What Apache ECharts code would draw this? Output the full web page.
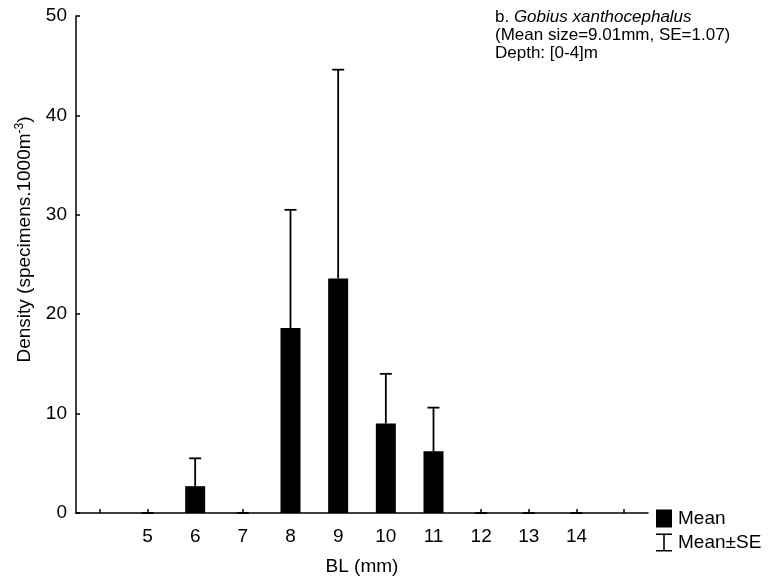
<!DOCTYPE html>
<html>
<head>
<meta charset="utf-8">
<script src="https://cdn.jsdelivr.net/npm/echarts@6/dist/echarts.min.js"></script>
<style>
  html, body { margin: 0; padding: 0; background: #fff; }
  #chart { width: 771px; height: 585px; }
</style>
</head>
<body>
<div id="chart"></div>
<script>
// ---- data ----
const categories = [4, 5, 6, 7, 8, 9, 10, 11, 12, 13, 14, 15];
const tickLabels = ['', '5', '6', '7', '8', '9', '10', '11', '12', '13', '14', ''];
const meanValues = [null, 0, 2.7, 0, 18.6, 23.6, 9.0, 6.2, 0, 0, 0, null];
const meanPlusSE = [null, 0, 5.5, 0, 30.5, 44.6, 14.0, 10.6, 0, 0, 0, null];
const yTicks = [0, 10, 20, 30, 40, 50];

const FONT = 'Liberation Sans, Arial, sans-serif';
const FS = 19;
const FS_NOTE = 17;

const chart = echarts.init(document.getElementById('chart'), null, { renderer: 'canvas' });

const errData = categories.map((c, i) => [i, meanValues[i], meanPlusSE[i]]).filter(d => d[1] !== null);

const option = {
  animation: false,
  backgroundColor: '#ffffff',
  textStyle: { fontFamily: FONT, color: '#000' },
  grid: { left: 76, right: 123, top: 16, bottom: 72, containLabel: false },
  legend: {
    orient: 'vertical',
    left: 656,
    top: 509,
    padding: 0,
    itemWidth: 16,
    itemHeight: 18,
    itemGap: 5,
    selectedMode: false,
    textStyle: { fontFamily: FONT, fontSize: FS, color: '#000', padding: [0, 0, 0, 1] },
    data: [
      { name: 'Mean', icon: 'rect', itemStyle: { color: '#000' } },
      { name: 'Mean±SE', icon: 'path://M0,0H16V1.6H8.8V16.4H16V18H0V16.4H7.2V1.6H0Z', itemStyle: { color: '#000' } }
    ]
  },
  xAxis: {
    type: 'category',
    data: categories.map(String),
    boundaryGap: true,
    name: 'BL (mm)',
    nameLocation: 'middle',
    nameGap: 44,
    nameTextStyle: { fontFamily: FONT, fontSize: FS, color: '#000' },
    axisLine: { show: true, lineStyle: { color: '#000', width: 1.5 } },
    axisTick: { show: true, inside: true, alignWithLabel: true, interval: 0, length: 4, lineStyle: { color: '#000', width: 1.5 } },
    axisLabel: {
      interval: 0, margin: 14, fontFamily: FONT, fontSize: FS, color: '#000',
      formatter: (v, i) => tickLabels[i]
    },
    splitLine: { show: false }
  },
  yAxis: {
    type: 'value',
    min: yTicks[0],
    max: yTicks[yTicks.length - 1],
    interval: 10,
    name: 'Density (specimens.1000m{sup|-3})',
    nameLocation: 'middle',
    nameGap: 40,
    nameTextStyle: {
      fontFamily: FONT, fontSize: FS, color: '#000',
      padding: [0, 0, 0, 50],
      rich: { sup: { fontFamily: FONT, fontSize: 12, color: '#000', padding: [0, 0, 10, 0] } }
    },
    axisLine: { show: true, lineStyle: { color: '#000', width: 1.5 } },
    axisTick: { show: true, inside: true, length: 4, lineStyle: { color: '#000', width: 1.5 } },
    axisLabel: { margin: 9, fontFamily: FONT, fontSize: FS, color: '#000' },
    splitLine: { show: false }
  },
  series: [
    {
      name: 'Mean',
      type: 'bar',
      data: meanValues,
      barWidth: 20,
      itemStyle: { color: '#000' },
      z: 2
    },
    {
      name: 'Mean±SE',
      type: 'custom',
      data: errData,
      itemStyle: { color: '#000' },
      encode: { x: 0, y: [1, 2] },
      z: 3,
      renderItem: function (params, api) {
        const idx = api.value(0);
        const lo = api.coord([idx, api.value(1)]);
        const hi = api.coord([idx, api.value(2)]);
        const half = 6;
        return {
          type: 'group',
          children: [
            { type: 'line', shape: { x1: lo[0], y1: lo[1], x2: hi[0], y2: hi[1] }, style: { stroke: '#000', lineWidth: 1.8 } },
            { type: 'line', shape: { x1: hi[0] - half, y1: hi[1], x2: hi[0] + half, y2: hi[1] }, style: { stroke: '#000', lineWidth: 1.8 } }
          ]
        };
      }
    }
  ],
  graphic: [
    {
      type: 'text',
      left: 495,
      top: 9,
      style: {
        text: '{n|b. }{i|Gobius xanthocephalus}\n{n|(Mean size=9.01mm, SE=1.07)}\n{n|Depth: [0-4]m}',
        fontFamily: FONT,
        fontSize: FS_NOTE,
        fill: '#000',
        rich: {
          n: { fontFamily: FONT, fontSize: FS_NOTE, fill: '#000', lineHeight: 18 },
          i: { fontFamily: FONT, fontSize: FS_NOTE, fontStyle: 'italic', fill: '#000', lineHeight: 18 }
        }
      }
    }
  ]
};

chart.setOption(option);
</script>
</body>
</html>
